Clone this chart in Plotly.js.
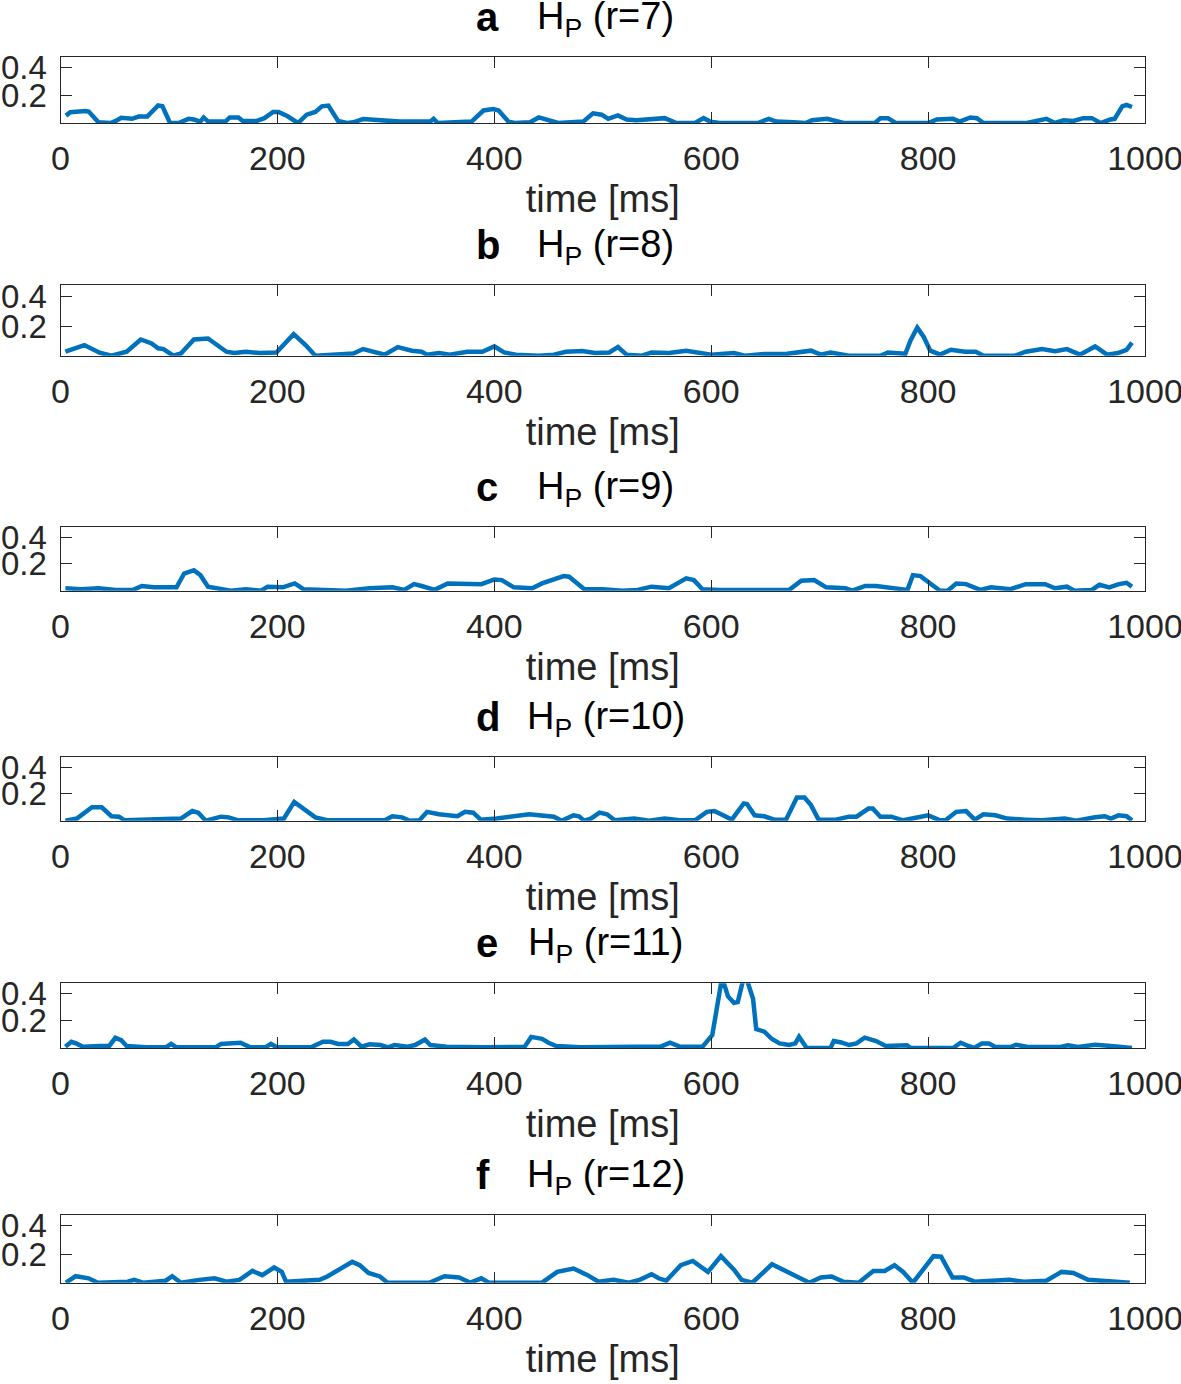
<!DOCTYPE html>
<html>
<head>
<meta charset="utf-8">
<script src="https://cdn.plot.ly/plotly-3.0.1.min.js"></script>
<style>html,body{margin:0;padding:0;background:#fff;}#chart{width:1181px;height:1384px;}</style>
</head>
<body>
<div id="chart"></div>
<script>
// ---- data (time in ms, H_P values) ----
const timeA = [5, 9, 23, 26, 35, 46, 51, 56, 66, 72, 80, 90, 94, 101, 109, 118, 123, 129, 132, 136, 147, 152, 156, 164, 168, 181, 188, 196, 201, 209, 219, 227, 235, 241, 247, 256, 264, 270, 279, 291, 313, 341, 344, 348, 379, 390, 399, 404, 413, 419, 433, 441, 448, 459, 482, 491, 499, 505, 514, 522, 531, 547, 557, 568, 585, 593, 599, 608, 643, 653, 660, 676, 687, 693, 707, 722, 751, 756, 763, 770, 800, 808, 823, 829, 839, 845, 851, 891, 909, 917, 925, 934, 943, 951, 959, 968, 972, 979, 983, 988];
const hpA = [0.053, 0.078, 0.086, 0.082, 0.005, 0.0, 0.015, 0.037, 0.03, 0.046, 0.046, 0.127, 0.12, 0.0, 0.0, 0.03, 0.025, 0.01, 0.04, 0.012, 0.01, 0.01, 0.04, 0.04, 0.015, 0.015, 0.035, 0.08, 0.08, 0.05, 0.0, 0.06, 0.08, 0.12, 0.125, 0.015, 0.0, 0.005, 0.028, 0.02, 0.01, 0.01, 0.03, 0.0, 0.01, 0.09, 0.1, 0.09, 0.01, 0.0, 0.005, 0.04, 0.025, 0.0, 0.01, 0.07, 0.06, 0.03, 0.055, 0.025, 0.02, 0.025, 0.035, 0.0, 0.0, 0.035, 0.01, 0.0, 0.0, 0.03, 0.01, 0.005, 0.0, 0.02, 0.03, 0.0, 0.0, 0.035, 0.035, 0.0, 0.0, 0.025, 0.03, 0.01, 0.04, 0.035, 0.0, 0.0, 0.03, 0.0, 0.02, 0.015, 0.035, 0.035, 0.0, 0.025, 0.03, 0.12, 0.13, 0.115];

const timeB = [4.5, 22, 36, 47, 61, 74, 84, 90, 95, 104, 111, 123, 136, 141, 153, 160, 171, 184, 199, 215, 226, 235, 250, 270, 279, 288, 299, 311, 324, 333, 338, 349, 359, 375, 389, 400, 409, 420, 441, 455, 466, 481, 493, 506, 514, 522, 536, 545, 561, 577, 585, 600, 621, 631, 649, 670, 692, 701, 710, 727, 756, 763, 779, 784, 790, 796, 802, 811, 821, 834, 844, 851, 880, 890, 905, 917, 928, 940, 954, 965, 975, 983, 988];
const hpB = [0.027, 0.072, 0.02, 0, 0.027, 0.11, 0.083, 0.05, 0.045, 0, 0.015, 0.11, 0.117, 0.09, 0.027, 0.018, 0.027, 0.018, 0.022, 0.146, 0.072, 0, 0.007, 0.015, 0.045, 0.027, 0.007, 0.058, 0.034, 0.027, 0.007, 0.018, 0.007, 0.027, 0.027, 0.063, 0.022, 0.007, 0, 0.007, 0.027, 0.031, 0.018, 0.022, 0.058, 0.007, 0, 0.022, 0.018, 0.034, 0.022, 0.007, 0.018, 0, 0.011, 0.013, 0.034, 0.007, 0.022, 0, 0, 0.022, 0.013, 0.107, 0.19, 0.127, 0.034, 0.007, 0.04, 0.027, 0.027, 0, 0, 0.027, 0.045, 0.031, 0.045, 0.007, 0.063, 0.007, 0.018, 0.04, 0.088];

const timeC = [4.5, 19, 35, 51, 67, 75, 86, 107, 114, 123, 129, 136, 157, 171, 185, 191, 205, 216, 224, 246, 263, 285, 306, 317, 326, 333, 345, 357, 388, 400, 407, 418, 435, 444, 464, 469, 483, 500, 518, 532, 545, 561, 577, 584, 592, 608, 632, 642, 672, 683, 695, 706, 724, 730, 742, 752, 773, 781, 786, 793, 802, 811, 818, 826, 835, 848, 858, 876, 890, 908, 917, 928, 935, 951, 958, 967, 976, 983, 988];
const hpC = [0.018, 0.011, 0.018, 0.006, 0.006, 0.035, 0.025, 0.025, 0.128, 0.153, 0.116, 0.03, 0, 0.011, 0, 0.03, 0.025, 0.054, 0.011, 0.006, 0, 0.018, 0.025, 0.006, 0.049, 0.035, 0.006, 0.054, 0.049, 0.084, 0.079, 0.025, 0.018, 0.054, 0.109, 0.104, 0.011, 0.011, 0, 0.006, 0.03, 0.018, 0.092, 0.079, 0.011, 0.006, 0.006, 0.011, 0.006, 0.074, 0.079, 0.025, 0.018, 0, 0.035, 0.035, 0.018, 0.006, 0.116, 0.109, 0.054, 0, 0, 0.054, 0.049, 0.006, 0.025, 0.011, 0.049, 0.049, 0.018, 0.03, 0, 0.006, 0.044, 0.025, 0.049, 0.059, 0.03];

const timeD = [4.5, 15, 29, 38, 47, 54, 59, 93, 111, 121.5, 127, 134, 148, 155, 164, 187, 199.5, 206, 215.5, 224, 235, 246, 285, 299, 306, 315, 322, 331, 338, 349, 366, 373, 380.5, 387.5, 402, 416, 432, 455, 462, 473, 478, 483, 489, 497, 504, 511, 529, 543, 557, 571, 585, 596, 603, 619, 630, 633, 640, 649, 658, 669, 679, 686, 692, 699, 715, 727, 734, 745, 749, 756, 766, 777, 787.5, 800, 811, 816, 826, 835, 843, 851, 862, 873, 890, 905, 926, 936.5, 954, 963, 968.5, 975.5, 983, 988];
const hpD = [0, 0.016, 0.1, 0.1, 0.033, 0.03, 0.003, 0.008, 0.016, 0.072, 0.06, 0, 0.03, 0.025, 0.003, 0.003, 0.016, 0.016, 0.14, 0.09, 0.025, 0.003, 0.008, 0.003, 0.033, 0.025, 0, 0.003, 0.066, 0.048, 0.033, 0.066, 0.06, 0.008, 0.016, 0.03, 0.048, 0.03, 0, 0.04, 0.033, 0, 0.015, 0.06, 0.048, 0.003, 0.016, 0, 0.016, 0.003, 0.003, 0.066, 0.072, 0.008, 0.128, 0.124, 0.04, 0.033, 0.008, 0.008, 0.172, 0.172, 0.116, 0.008, 0.008, 0.03, 0.03, 0.09, 0.09, 0.03, 0.03, 0.003, 0.016, 0.04, 0.003, 0.003, 0.066, 0.072, 0.008, 0.048, 0.04, 0.016, 0.008, 0.003, 0.016, 0, 0.025, 0.033, 0.016, 0.04, 0.033, 0.003];

const timeE = [4.5, 10, 15, 20.5, 36, 45, 50.6, 56, 61, 79, 97, 102, 107, 143, 148, 166, 175, 189, 194, 199.5, 231, 242, 249, 256, 265, 270.5, 277.5, 285, 295, 302, 308, 320, 327, 336, 341, 356, 391, 402, 428, 434, 444, 450, 457, 479, 500, 532, 553.5, 562, 571, 592, 601, 605, 610, 615.5, 621, 624.5, 630, 633, 638.6, 641.5, 649, 656, 663, 672, 677.6, 681, 688, 710, 713, 720, 727, 734, 741.5, 752, 761, 780.5, 784, 823, 830, 837, 842.5, 849.6, 856, 862, 876, 881, 892, 922, 929, 938, 954, 968.5, 988];
const hpE = [0.01, 0.046, 0.032, 0.01, 0.015, 0.015, 0.075, 0.058, 0.015, 0.005, 0.005, 0.03, 0.005, 0.005, 0.03, 0.039, 0.005, 0.005, 0.03, 0.005, 0.005, 0.046, 0.046, 0.03, 0.03, 0.063, 0.01, 0.027, 0.022, 0.005, 0.022, 0.01, 0.022, 0.063, 0.022, 0.01, 0.005, 0.005, 0.01, 0.082, 0.068, 0.039, 0.015, 0.005, 0.01, 0.01, 0.01, 0.039, 0.01, 0.01, 0.095, 0.277, 0.52, 0.38, 0.333, 0.338, 0.52, 0.5, 0.363, 0.139, 0.12, 0.066, 0.034, 0.022, 0.034, 0.083, 0, 0, 0.051, 0.041, 0.022, 0.034, 0.076, 0.051, 0.015, 0.02, 0, 0, 0.039, 0.015, 0, 0.034, 0.034, 0.007, 0.007, 0.024, 0.007, 0.007, 0.02, 0.007, 0.024, 0.015, 0];

const timeF = [5, 14, 26, 34.5, 62, 68, 76, 97, 103, 111, 128, 142, 153, 165, 177, 186, 197, 204, 208, 239, 246, 256, 269, 276, 284, 294.5, 301.5, 340, 354, 367.5, 378, 388, 395, 444, 458, 473, 486, 496, 510, 524, 534, 545, 551.5, 558.5, 572, 583, 597, 609, 621, 628, 638, 656, 666, 677, 690.5, 701, 711, 722, 736, 749.5, 760, 769, 777, 786, 795, 805, 812, 822.5, 833, 843, 875, 888.5, 909, 923, 934, 947.5, 986];
const hpF = [0, 0.046, 0.031, 0, 0.007, 0.02, 0, 0.014, 0.046, 0, 0.02, 0.031, 0.007, 0.02, 0.083, 0.053, 0.107, 0.076, 0.007, 0.02, 0.044, 0.092, 0.147, 0.123, 0.069, 0.044, 0, 0, 0.046, 0.037, 0, 0.031, 0, 0, 0.076, 0.1, 0.053, 0.007, 0.02, 0, 0.02, 0.06, 0.031, 0.014, 0.123, 0.153, 0.076, 0.187, 0.092, 0.02, 0, 0.13, 0.092, 0.044, 0, 0.037, 0.044, 0.007, 0, 0.083, 0.083, 0.123, 0.076, 0, 0.083, 0.187, 0.183, 0.037, 0.037, 0.007, 0.02, 0.007, 0.014, 0.076, 0.069, 0.02, 0];

const panelLetters = ['a', 'b', 'c', 'd', 'e', 'f'];
const radii = [7, 8, 9, 10, 11, 12];
const xTicks = [0, 200, 400, 600, 800, 1000];
const yTicks = [0.2, 0.4];
const yTickText = ['0.2', '0.4'];
const xLabel = 'time [ms]';

// ---- layout geometry ----
const W = 1181, H = 1384;
const plotLeft = 60.5, plotRight = 1145;
const panelTop = [56.7, 285.3, 526.7, 756.7, 983.3, 1215];
const panelBottom = [123, 355.7, 590.7, 820.7, 1048, 1282.7];

const times = [timeA, timeB, timeC, timeD, timeE, timeF];
const values = [hpA, hpB, hpC, hpD, hpE, hpF];

const FONT = '"Liberation Sans", Arial, Helvetica, sans-serif';
const AX = '#262626';

const traces = [];
const layout = {
  width: W, height: H,
  margin: {l: 0, r: 0, t: 0, b: 0},
  paper_bgcolor: '#fff', plot_bgcolor: '#fff',
  showlegend: false,
  font: {family: FONT, color: AX},
  annotations: []
};

for (let i = 0; i < 6; i++) {
  const n = i === 0 ? '' : String(i + 1);
  traces.push({
    type: 'scatter', mode: 'lines',
    x: times[i], y: values[i],
    xaxis: 'x' + n, yaxis: 'y' + n,
    line: {color: '#0072BD', width: 4.5},
    hoverinfo: 'skip'
  });
  const common = {
    ticks: 'inside', ticklen: 11, tickwidth: 1, tickcolor: AX,
    showline: true, linecolor: AX, linewidth: 1, mirror: 'ticks',
    showgrid: false, zeroline: false, automargin: false,
    ticklabeloverflow: 'allow'
  };
  layout['xaxis' + n] = Object.assign({}, common, {
    domain: [plotLeft / W, plotRight / W],
    anchor: 'y' + n,
    range: [0, 1000],
    tickmode: 'array', tickvals: xTicks, ticktext: xTicks.map(String),
    tickfont: {family: FONT, size: 34, color: AX},
    ticklabelstandoff: 5,
    title: {text: xLabel, font: {family: FONT, size: 38, color: AX}, standoff: 9}
  });
  layout['yaxis' + n] = Object.assign({}, common, {
    domain: [1 - panelBottom[i] / H, 1 - panelTop[i] / H],
    anchor: 'x' + n,
    range: [0, 0.477],
    tickmode: 'array', tickvals: yTicks, ticktext: yTickText,
    tickfont: {family: FONT, size: 33, color: AX},
    ticklabelstandoff: 6
  });
  layout.annotations.push({
    xref: 'paper', yref: 'y' + n + ' domain',
    x: 474 / W, y: 1, xanchor: 'left', yanchor: 'bottom', yshift: 16,
    text: '<b>' + panelLetters[i] + '</b>', showarrow: false,
    font: {family: FONT, size: 40, color: '#000'}
  });
  layout.annotations.push({
    xref: 'x' + n + ' domain', yref: 'y' + n + ' domain',
    x: 0.5, y: 1, xanchor: 'center', yanchor: 'bottom', yshift: 12, xshift: 3,
    text: 'H<sub>P</sub> (r=' + radii[i] + ')', showarrow: false,
    font: {family: FONT, size: 38, color: '#000'}
  });
}

Plotly.newPlot('chart', traces, layout, {staticPlot: true, displayModeBar: false});
</script>
</body>
</html>
